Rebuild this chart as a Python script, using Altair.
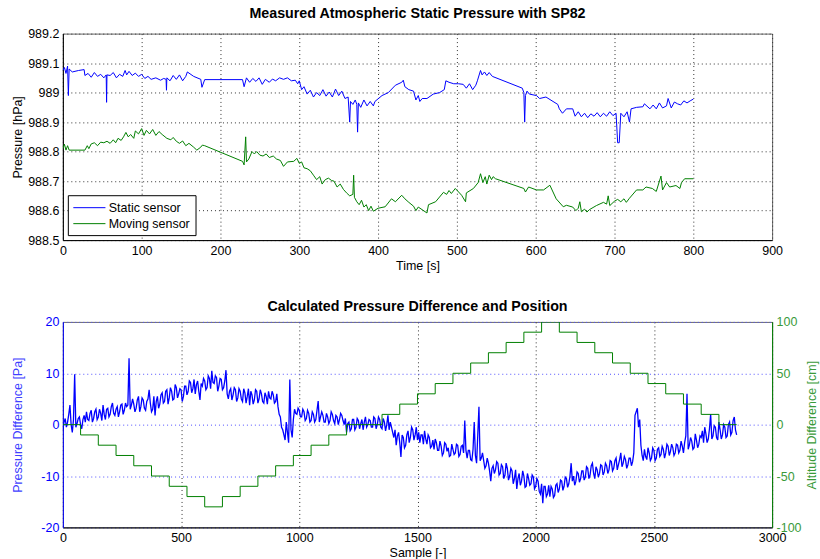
import altair as alt
import pandas as pd

FONT = "Liberation Sans"
BLUE = "#0000ff"
GREEN = "#008000"

# ---------------- top panel data (time [s], pressure [hPa]) ----------------
static_time = [
    0, 2, 4, 6, 7, 8, 12, 20, 27, 28,
    32, 36, 40, 44, 48, 52, 55, 55.5, 56, 60,
    64, 68, 72, 76, 79, 81, 84, 88, 92, 96,
    100, 104, 108, 112, 118, 124, 128, 131, 131.5, 132,
    136, 140, 144, 148, 152, 156, 158, 166, 175, 176.5,
    180, 228, 230, 233, 237, 241, 245, 249, 253, 257,
    262, 266, 270, 275, 280, 285, 290, 295, 298, 300,
    303, 306, 310, 314, 318, 322, 326, 330, 334, 338,
    342, 346, 350, 354, 358, 362, 364, 365, 368, 371,
    373, 374, 375, 378, 382, 386, 390, 394, 396, 405,
    413, 422, 430, 432, 434, 439, 445, 448, 451, 453,
    456, 462, 470, 478, 484, 486, 490, 496, 502, 508,
    512, 516, 520, 524, 526, 530, 532, 535, 538, 541,
    545, 583, 585, 586, 587, 589, 592, 601, 605, 613,
    622, 628, 630, 634, 639, 647, 650, 654, 658, 662,
    666, 670, 674, 678, 682, 686, 690, 694, 698, 702,
    704, 706, 708, 712, 716, 719, 721, 728, 736, 738,
    745, 749, 753, 757, 761, 766, 768, 772, 776, 780,
    784, 788, 792, 796, 800,
]
static_hpa = [
    989.075, 989.085, 989.065, 989.09, 988.99, 989.08, 989.07, 989.075, 989.078, 989.058,
    989.065, 989.052, 989.068, 989.055, 989.062, 989.05, 989.06, 988.967, 989.06, 989.058,
    989.068, 989.05, 989.062, 989.055, 989.075, 989.06, 989.072, 989.058, 989.066, 989.055,
    989.062, 989.048, 989.055, 989.045, 989.05, 989.042, 989.048, 989.045, 989.008, 989.05,
    989.04, 989.058, 989.045, 989.06, 989.04, 989.055, 989.07, 989.055, 989.045, 989.018,
    989.044, 989.044, 989.02, 989.05, 989.035, 989.048, 989.038, 989.05, 989.028, 989.045,
    989.035, 989.046, 989.04, 989.05, 989.045, 989.05, 989.04, 989.042, 989.03, 989.04,
    989.01, 989.02, 988.995, 989.008, 988.985, 989.0, 988.99, 989.01, 988.988, 989.002,
    988.985, 989.012, 988.99, 989.005, 988.98, 988.985, 988.9, 988.97, 988.96, 988.975,
    988.96, 988.866, 988.965, 988.95, 988.975, 988.955, 988.97, 988.955, 988.97, 988.99,
    989.0, 989.025, 989.035, 989.042, 989.02, 989.01, 989.005, 988.975, 988.99, 988.97,
    988.98, 988.98, 988.995, 989.0, 989.01, 989.04, 989.035, 989.03, 989.03, 989.028,
    989.015, 989.03, 989.01, 989.025, 989.04, 989.075, 989.06, 989.07, 989.058, 989.068,
    989.055, 989.015, 989.0, 988.9, 988.99, 989.005, 988.995, 988.99, 988.98, 988.985,
    988.97, 988.96, 988.945, 988.93, 988.945, 988.945, 988.92, 988.935, 988.918, 988.93,
    988.915, 988.928, 988.92, 988.932, 988.918, 988.93, 988.92, 988.935, 988.922, 988.93,
    988.83, 988.83, 988.93, 988.918, 988.935, 988.9, 988.945, 988.95, 988.952, 988.962,
    988.945, 988.958, 988.945, 988.965, 988.948, 988.955, 988.98, 988.948, 988.968, 988.962,
    988.958, 988.972, 988.965, 988.972, 988.978,
]
moving_time = [
    0, 2, 4, 6, 8, 28, 31, 33, 36, 40,
    44, 48, 52, 56, 60, 64, 67, 70, 74, 77,
    80, 83, 86, 90, 92, 96, 100, 103, 106, 110,
    114, 118, 122, 126, 132, 137, 140, 144, 148, 152,
    156, 160, 166, 170, 175, 177, 180, 228, 230, 232,
    233, 236, 240, 243, 246, 250, 254, 258, 262, 267,
    271, 276, 280, 285, 293, 297, 300, 303, 306, 310,
    314, 318, 322, 326, 329, 333, 337, 341, 344, 348,
    352, 356, 360, 364, 368, 369, 370, 373, 376, 379,
    382, 385, 388, 391, 394, 400, 409, 417, 422, 430,
    434, 439, 445, 448, 451, 462, 464, 473, 483, 487,
    490, 493, 498, 506, 511, 512, 521, 527, 530, 533,
    536, 538, 541, 544, 546, 549, 585, 587, 591, 601,
    610, 618, 626, 635, 639, 647, 651, 654, 656, 658,
    662, 665, 668, 677, 686, 690, 692, 694, 700, 704,
    708, 712, 715, 719, 728, 736, 740, 748, 753, 759,
    761, 766, 770, 778, 783, 785, 789, 800,
]
moving_hpa = [
    988.81, 988.825, 988.805, 988.82, 988.805, 988.805, 988.82, 988.81, 988.826, 988.83,
    988.82, 988.832, 988.83, 988.835, 988.828, 988.84, 988.83, 988.845, 988.838, 988.85,
    988.865, 988.85, 988.858, 988.845, 988.87, 988.86, 988.878, 988.855, 988.872, 988.86,
    988.875, 988.855, 988.868, 988.858, 988.845, 988.84, 988.848, 988.835, 988.828, 988.836,
    988.82, 988.828, 988.815, 988.805, 988.815, 988.822, 988.82, 988.767, 988.755, 988.85,
    988.765, 988.775, 988.8, 988.792, 988.8, 988.788, 988.785, 988.792, 988.78, 988.785,
    988.775, 988.77, 988.75, 988.765, 988.767, 988.777, 988.76, 988.765, 988.745, 988.742,
    988.735, 988.72, 988.705, 988.715, 988.69, 988.705, 988.71, 988.702, 988.7, 988.68,
    988.69, 988.672, 988.66, 988.65, 988.655, 988.72, 988.645, 988.63, 988.62, 988.635,
    988.612, 988.62, 988.6, 988.615, 988.598, 988.608, 988.613, 988.64, 988.63, 988.652,
    988.64, 988.628, 988.615, 988.6, 988.612, 988.592, 988.62, 988.63, 988.662, 988.655,
    988.668, 988.658, 988.675, 988.652, 988.63, 988.66, 988.675, 988.695, 988.725, 988.695,
    988.715, 988.69, 988.72, 988.705, 988.715, 988.708, 988.675, 988.663, 988.68, 988.67,
    988.67, 988.686, 988.64, 988.613, 988.618, 988.612, 988.6, 988.608, 988.63, 988.596,
    988.605, 988.595, 988.603, 988.617, 988.628, 988.622, 988.65, 988.617, 988.632, 988.638,
    988.63, 988.64, 988.628, 988.642, 988.67, 988.67, 988.68, 988.675, 988.665, 988.717,
    988.67, 988.695, 988.68, 988.685, 988.675, 988.695, 988.708, 988.708,
]

# ---------------- bottom panel data ----------------
# pressure difference [Pa], one reading every 5 samples from sample 0 to 2850
diff_pa = [
    -1.0, 0.5, 1.2, -0.5, 0.5, 2.0, 3.8, 0.0, -1.5, 1.0, 9.8, -0.5, 0.2, 1.2, 1.5, 0.0, -0.8, 1.0, 1.8, 0.5,
    2.5, 1.0, 0.8, 2.2, 2.8, 0.5, 1.2, 2.5, 3.0, 1.0, 1.5, 3.0, 2.2, 0.8, 3.8, 2.0, 1.0, 3.0, 3.2, 1.5,
    2.0, 3.5, 4.2, 2.2, 1.8, 3.0, 3.5, 1.5, 2.5, 3.8, 4.0, 2.0, 2.8, 4.2, 3.5, 3.8, 12.9, 3.0, 3.8, 5.0,
    4.0, 2.5, 3.2, 4.8, 5.5, 2.5, 3.5, 5.2, 4.8, 3.2, 2.8, 4.5, 5.0, 6.8, 4.2, 2.5, 3.0, 5.5, 1.8, 4.5,
    5.5, 3.2, 4.0, 5.8, 6.2, 4.2, 4.5, 6.5, 6.8, 4.0, 5.2, 7.2, 6.5, 4.8, 5.0, 7.8, 7.2, 5.2, 6.0, 7.0,
    6.8, 4.5, 5.5, 7.5, 7.5, 5.8, 6.5, 8.5, 8.2, 6.2, 7.0, 8.8, 6.0, 7.8, 8.5, 6.5, 4.8, 8.0, 7.5, 9.0,
    8.5, 6.8, 7.2, 9.5, 9.0, 7.0, 10.5, 8.2, 8.0, 9.5, 9.2, 6.5, 7.5, 9.0, 8.8, 6.8, 7.2, 8.5, 10.6, 6.0,
    5.0, 6.5, 7.0, 4.8, 5.8, 7.2, 6.8, 4.5, 5.2, 7.0, 6.5, 5.0, 4.5, 7.0, 6.2, 4.2, 5.5, 7.0, 3.8, 6.5,
    5.8, 4.0, 4.8, 6.8, 6.5, 4.2, 5.0, 6.8, 6.0, 4.5, 4.2, 6.2, 5.5, 4.0, 6.5, 5.2, 5.0, 6.5, 5.8, 4.2,
    4.5, 6.0, 3.5, 2.0, 1.5, -0.5, -1.0, -2.0, -3.0, 0.5, -1.5, -3.5, 8.8, -1.0, -2.5, 1.0, 3.0, 2.2, 2.0, 3.2,
    2.8, 1.5, 1.5, 3.0, 2.5, 0.8, 1.2, 2.8, 2.2, 0.5, 0.8, 2.5, 2.0, 0.5, 1.0, 2.8, 4.6, 0.5, 1.5, 2.5,
    1.8, 0.5, 0.5, 2.2, 1.5, 0.2, 0.8, 2.5, 2.0, 0.8, 0.2, 1.8, 1.5, 0.0, 1.0, 2.2, 1.8, 0.8, 0.0, 1.2,
    -1.5, 0.2, 0.5, -1.2, -0.8, 1.0, 1.0, -1.0, -0.5, 1.2, 0.8, -0.8, 0.2, 1.0, -1.0, 0.5, 1.5, -0.5, 0.0, 1.0,
    0.8, -0.5, -0.5, 1.5, 1.2, -0.8, 0.0, 1.5, 1.0, -0.5, -0.8, 1.2, 0.5, -1.2, 0.0, 1.8, -1.0, 0.5, -0.5, -1.5,
    -2.5, -1.0, -4.0, -2.2, -1.5, -3.5, -6.3, -2.0, -2.5, -4.5, -4.0, -2.0, -1.2, -3.5, -2.5, -0.5, -1.0, -3.0, -2.0, -0.5,
    -3.0, -1.5, -3.5, -2.0, -2.0, -3.8, -1.2, -2.8, -3.8, -2.0, -2.5, -4.5, -4.2, -3.0, -4.8, -2.8, -3.5, -5.0, -5.0, -3.2,
    -4.2, -6.0, -5.5, -3.5, -3.8, -5.2, -4.5, -6.2, -6.0, -3.8, -4.8, -5.8, -5.5, -3.8, -4.0, -6.2, -5.8, -4.2, -4.0, -5.5,
    0.8, -5.0, -6.5, -5.0, -5.0, -6.8, -7.0, -4.8, 0.5, -6.0, -7.5, -2.0, 3.5, -7.0, -6.5, -5.5, -7.0, -8.5, -8.0, -6.5,
    -7.5, -9.0, -11.0, -8.5, -8.0, -9.5, -8.8, -7.2, -7.5, -9.8, -9.5, -7.8, -8.2, -10.5, -9.8, -7.5, -8.5, -10.8, -10.0, -8.5,
    -9.0, -11.5, -10.5, -8.8, -12.5, -10.5, -9.5, -11.8, -11.0, -9.0, -10.0, -12.2, -12.0, -9.5, -10.5, -11.8, -11.5, -9.8, -10.2, -12.5,
    -12.0, -10.5, -11.0, -13.0, -13.5, -11.5, -15.3, -12.0, -12.0, -14.0, -13.5, -11.8, -14.0, -12.0, -12.5, -14.2, -13.8, -11.8, -11.5, -13.2,
    -12.5, -10.8, -11.0, -12.8, -12.0, -10.2, -10.5, -12.2, -11.5, -10.0, -7.5, -11.0, -10.0, -11.8, -11.0, -9.2, -9.5, -11.2, -10.5, -9.0,
    -9.0, -10.8, -10.2, -8.2, -8.5, -10.5, -9.8, -8.0, -7.5, -9.5, -10.5, -8.2, -8.8, -10.2, -9.5, -7.8, -8.0, -9.8, -9.2, -7.5,
    -8.0, -9.5, -8.8, -7.0, -7.2, -9.0, -8.5, -7.0, -6.5, -8.8, -7.8, -6.8, -5.5, -8.2, -7.5, -6.2, -6.8, -8.5, -7.8, -6.5,
    -6.5, -8.0, -7.2, -5.5, 1.8, 2.5, 3.2, -0.5, 1.0, -4.0, -6.0, -7.0, -4.8, -6.2, -6.8, -4.5, -5.5, -7.0, -6.5, -4.5,
    -5.0, -7.0, -6.5, -4.8, -4.5, -6.2, -5.8, -4.2, -4.8, -6.5, -5.5, -3.8, -4.2, -6.0, -5.2, -3.8, -4.5, -6.0, -5.5, -3.8,
    -4.0, -5.5, -5.0, -3.2, -4.2, -5.5, -3.5, -2.2, 6.0, -4.8, -4.0, -2.5, -3.2, -4.8, -4.5, -1.8, -3.0, -4.5, -3.8, -2.2,
    -2.5, -1.2, -3.5, -0.5, -1.8, -3.5, -2.8, -0.8, 2.0, -2.8, -2.2, -0.2, -0.5, -2.5, -3.0, 0.5, -1.0, -2.8, -2.0, 0.0,
    -0.5, -2.5, -2.2, 0.0, 0.5, -2.0, -1.5, 0.8, 1.5, -1.0, -2.0,
]
diff_sample = list(range(0, 5 * len(diff_pa), 5))

# altitude difference of the moving sensor [cm] (step starts)
step_sample = [0, 75, 150, 225, 300, 375, 450, 525, 600, 675,
               750, 825, 900, 975, 1050, 1125, 1200, 1350, 1425, 1500,
               1575, 1650, 1725, 1800, 1875, 1950, 2025, 2100, 2175, 2250,
               2325, 2400, 2475, 2550, 2625, 2700, 2775, 2850]
step_cm = [0, -10, -20, -30, -40, -50, -60, -70, -80, -70,
           -60, -50, -40, -30, -20, -10, 0, 10, 20, 30,
           40, 50, 60, 70, 80, 90, 100, 90, 80, 70,
           60, 50, 40, 30, 20, 10, 0, 0]

top_x_ticks = [0, 100, 200, 300, 400, 500, 600, 700, 800, 900]
top_y_ticks = [988.5, 988.6, 988.7, 988.8, 988.9, 989.0, 989.1, 989.2]
bot_x_ticks = [0, 500, 1000, 1500, 2000, 2500, 3000]
pa_ticks = [-20, -10, 0, 10, 20]
cm_ticks = [-100, -50, 0, 50, 100]

series_names = ["Static sensor", "Moving sensor"]

top_df = pd.DataFrame({
    "t": static_time + moving_time,
    "p": static_hpa + moving_hpa,
    "series": [series_names[0]] * len(static_time) + [series_names[1]] * len(moving_time),
})
diff_df = pd.DataFrame({"sample": diff_sample, "pa": diff_pa})
step_df = pd.DataFrame({"sample": step_sample, "cm": step_cm})

GRID_DASH = [1, 3]
PLAIN_LABEL = "'' + datum.value"  # hyphen-minus, no thousands separator

top = alt.Chart(top_df).mark_line(strokeWidth=1, clip=True).encode(
    x=alt.X("t:Q",
            scale=alt.Scale(domain=[0, 900], nice=False, zero=False),
            axis=alt.Axis(title="Time [s]", values=top_x_ticks, labelExpr=PLAIN_LABEL,
                          grid=True, gridColor="#333333", gridDash=GRID_DASH)),
    y=alt.Y("p:Q",
            scale=alt.Scale(domain=[988.5, 989.2], nice=False, zero=False),
            axis=alt.Axis(title="Pressure [hPa]", values=top_y_ticks, format=".1~f",
                          grid=True, gridColor="#333333", gridDash=GRID_DASH,
                          titleX=-45, titleBaseline="middle")),
    color=alt.Color("series:N",
                    scale=alt.Scale(domain=series_names, range=[BLUE, GREEN]),
                    legend=alt.Legend(title=None, orient="bottom-left", offset=5,
                                      symbolType="M-1,0L3.6,0", symbolSize=196,
                                      symbolStrokeWidth=1, labelFont=FONT,
                                      labelFontSize=12.5, labelColor="#000000",
                                      fillColor="#ffffff", strokeColor="#000000",
                                      padding=5, rowPadding=2, labelOffset=21)),
    order=alt.Order("t:Q"),
).properties(
    width=711, height=207,
    title=alt.TitleParams("Measured Atmospheric Static Pressure with SP82",
                          font=FONT, fontSize=14.3, fontWeight="bold", offset=6),
)

x_bottom = alt.X("sample:Q",
                 scale=alt.Scale(domain=[0, 3000], nice=False, zero=False),
                 axis=alt.Axis(title="Sample [-]", values=bot_x_ticks, labelExpr=PLAIN_LABEL,
                               grid=True, gridColor="#333333", gridDash=GRID_DASH))

blue_line = alt.Chart(diff_df).mark_line(color=BLUE, strokeWidth=1.3, clip=True).encode(
    x=x_bottom,
    y=alt.Y("pa:Q",
            scale=alt.Scale(domain=[-20, 20], nice=False, zero=False),
            axis=alt.Axis(title="Pressure Difference [Pa]", values=pa_ticks,
                          labelExpr=PLAIN_LABEL,
                          grid=True, gridColor="#5050ff", gridDash=GRID_DASH,
                          labelColor=BLUE, titleColor="#4040ff", domainColor=BLUE,
                          titleX=-45, titleBaseline="middle")),
)

green_step = alt.Chart(step_df).mark_line(color=GREEN, strokeWidth=1, clip=True,
                                           interpolate="step-after").encode(
    x=x_bottom,
    y=alt.Y("cm:Q",
            scale=alt.Scale(domain=[-100, 100], nice=False, zero=False),
            axis=alt.Axis(title="Altitude Difference [cm]", values=cm_ticks, orient="right",
                          labelExpr=PLAIN_LABEL, grid=False,
                          labelColor="#3a9a3a", titleColor="#3a9a3a",
                          domainColor=GREEN, titleAngle=-90, titleX=39,
                          titleBaseline="middle")),
)

bottom = alt.layer(blue_line, green_step).resolve_scale(y="independent").properties(
    width=711, height=206,
    title=alt.TitleParams("Calculated Pressure Difference and Position",
                          font=FONT, fontSize=14.3, fontWeight="bold", offset=2),
)

chart = alt.vconcat(top, bottom, spacing=26).resolve_legend(
    color="independent"
).properties(
    padding={"left": 11, "top": 6, "right": 2, "bottom": 2},
    background="#ffffff",
).configure_view(
    stroke="#666666", strokeWidth=1,
).configure_axis(
    labelFont=FONT, labelFontSize=12.5, labelColor="#000000",
    titleFont=FONT, titleFontSize=12.5, titleFontWeight="normal", titleColor="#000000",
    domainColor="#000000", ticks=False, labelPadding=4, titlePadding=3,
    labelFlush=False, labelOverlap=False,
).configure_title(
    anchor="middle", color="#000000",
)

chart.save("out.html", embed_options={"renderer": "svg", "actions": False})
